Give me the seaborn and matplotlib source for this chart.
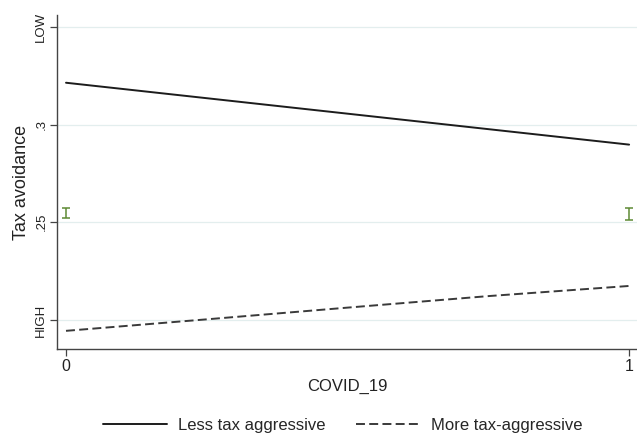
import numpy as np
import pandas as pd
import matplotlib
matplotlib.use("Agg")
import matplotlib.pyplot as plt
import seaborn as sns

# Predicted tax avoidance by COVID_19 status for the two firm groups
covid = [0, 1]
less_aggr = [0.3215, 0.2898]

covid_more = [0, 0.25, 0.5, 0.75, 1]
more_aggr = [0.1944, 0.2003, 0.2063, 0.2122, 0.2174]

# Confidence intervals of the marginal effect at each COVID_19 value
ci_x = [0, 1]
ci_mid = [0.2549, 0.2543]
ci_half = [0.0026, 0.0031]

ytick_vals = [0.20, 0.25, 0.30, 0.35]
ytick_labels = ["HIGH", ".25", ".3", "LOW"]
xtick_vals = [0, 1]
xtick_labels = ["0", "1"]

sns.set_theme(style="white")
plt.rcParams["font.family"] = ["Liberation Sans", "DejaVu Sans"]

fig = plt.figure(figsize=(6.37, 4.36), dpi=100)
ax = fig.add_axes([57 / 637, 1 - 349 / 436, 1 - 57 / 637, (349 - 15) / 436])

df_less = pd.DataFrame({"COVID_19": covid, "val": less_aggr})
df_more = pd.DataFrame({"COVID_19": covid_more, "val": more_aggr})

sns.lineplot(data=df_less, x="COVID_19", y="val", ax=ax, color="#1c1c1c",
             linewidth=1.4, label="Less tax aggressive")
sns.lineplot(data=df_more, x="COVID_19", y="val", ax=ax, color="#3a3a3a",
             linewidth=1.4, linestyle=(0, (4.6, 2.2)), label="More tax-aggressive")

ax.errorbar(ci_x, ci_mid, yerr=ci_half, fmt="none", ecolor="#5e8a34",
            elinewidth=1.1, capsize=3.2, capthick=1.1)

ax.set_xlim(-0.016, 1.014)
ax.set_ylim(0.1851, 0.3562)
ax.set_yticks(ytick_vals)
ax.set_yticklabels(ytick_labels, rotation=90, va="center", fontsize=9.5)
ax.set_xticks(xtick_vals)
ax.set_xticklabels(xtick_labels, fontsize=11.5)

ax.grid(axis="y", color="#e3eeee", linewidth=0.9)
ax.set_axisbelow(True)

for side in ["top", "right"]:
    ax.spines[side].set_visible(False)
for side in ["left", "bottom"]:
    ax.spines[side].set_color("#444444")
    ax.spines[side].set_linewidth(1.0)

ax.tick_params(axis="both", which="major", length=5, width=0.9,
               color="#444444", bottom=True, left=True, pad=2, labelcolor="#222222")

ax.set_xlabel("COVID_19", fontsize=12, color="#222222", labelpad=4)
ax.set_ylabel("Tax avoidance", fontsize=13, color="#222222", labelpad=4)

ax.get_legend().remove()
handles, labels = ax.get_legend_handles_labels()
fig.legend(handles, labels, loc="center", bbox_to_anchor=(343 / 637, 1 - 425 / 436),
           ncol=2, frameon=False, fontsize=12, handlelength=3.85,
           columnspacing=1.8, handletextpad=0.66)

fig.savefig("out.png", dpi=100, facecolor="white")
